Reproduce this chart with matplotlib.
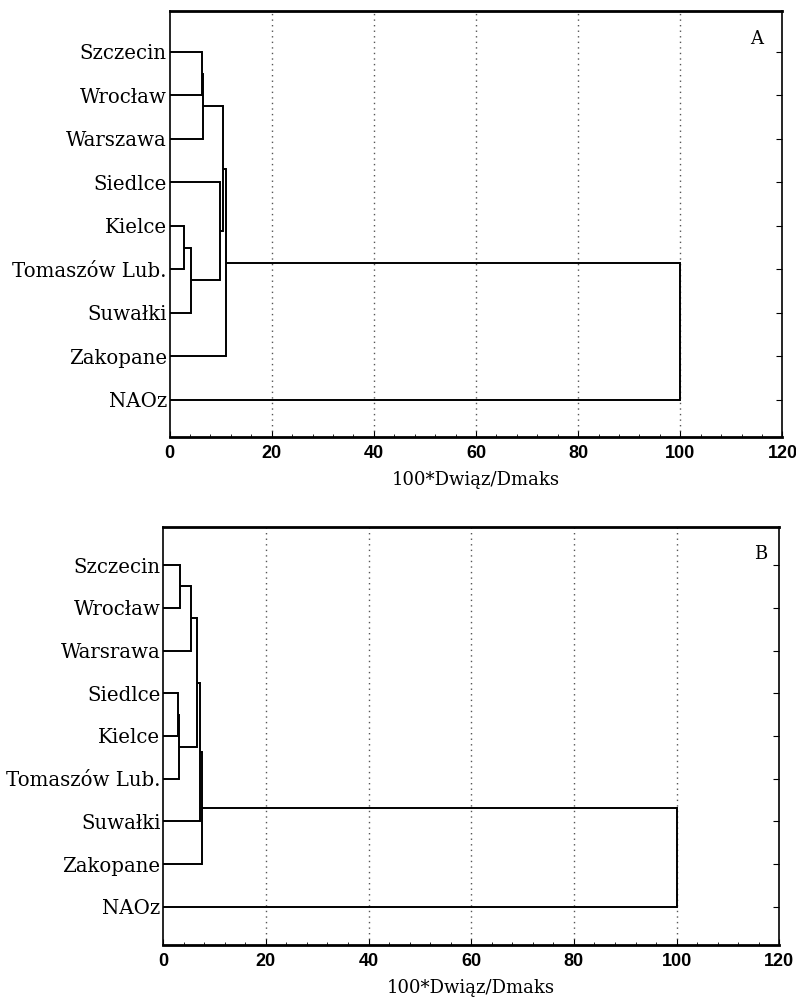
"""
Two dendrograms (Ward-like tree) of stations vs. NAO index, panels A and B.
"""
import matplotlib.pyplot as plt
from matplotlib.ticker import MultipleLocator

# ---- Data ----
stations = ["Szczecin", "Wrocław", "Warszawa", "Siedlce", "Kielce",
            "Tomaszów Lub.", "Suwałki", "Zakopane", "NAOz"]
stations_b = ["Szczecin", "Wrocław", "Warsrawa", "Siedlce", "Kielce",
              "Tomaszów Lub.", "Suwałki", "Zakopane", "NAOz"]

# merges: (child a, child b, height); leaves are 0..8, new clusters 9, 10, ...
merges_a = [
    (0, 1, 6.3),
    (9, 2, 6.6),
    (4, 5, 2.9),
    (11, 6, 4.2),
    (3, 12, 9.8),
    (10, 13, 10.5),
    (14, 7, 11.0),
    (15, 8, 100.0),
]
merges_b = [
    (0, 1, 3.3),
    (9, 2, 5.4),
    (3, 4, 2.8),
    (11, 5, 3.1),
    (10, 12, 6.5),
    (13, 6, 7.2),
    (14, 7, 7.6),
    (15, 8, 100.0),
]

xticks = [0, 20, 40, 60, 80, 100, 120]
xlabel = "100*Dwiąz/Dmaks"

plt.rcParams["font.family"] = ["DejaVu Serif"]
TICK_FONT = ["Liberation Sans", "DejaVu Sans"]


def draw_tree(ax, labels, merges, ylim, tag, tag_x):
    n = len(labels)
    ypos = {i: float(i) for i in range(n)}
    hgt = {i: 0.0 for i in range(n)}
    for k, (a, b, h) in enumerate(merges):
        for c in (a, b):
            ax.plot([hgt[c], h], [ypos[c], ypos[c]], color="black", lw=1.4,
                    solid_capstyle="butt")
        ax.plot([h, h], [ypos[a], ypos[b]], color="black", lw=1.4)
        new = n + k
        ypos[new] = (ypos[a] + ypos[b]) / 2
        hgt[new] = h

    ax.set_xlim(0, 120)
    ax.set_ylim(*ylim)
    ax.set_xticks(xticks)
    ax.set_xticklabels([str(v) for v in xticks], family=TICK_FONT,
                       fontweight="bold", fontsize=13)
    ax.xaxis.set_minor_locator(MultipleLocator(4))
    ax.set_yticks(range(n))
    ax.set_yticklabels(labels, fontsize=14.2)
    ax.tick_params(axis="y", left=False, right=True, direction="in", length=4, pad=2)
    ax.tick_params(axis="x", which="major", direction="in", length=4, pad=6)
    ax.tick_params(axis="x", which="minor", direction="in", length=2)
    for xv in xticks[1:-1]:
        ax.axvline(xv, color="#555555", lw=1.0, ls=(0, (1, 3)), zorder=0)
    for side in ("top", "bottom"):
        ax.spines[side].set_linewidth(2.0)
    for side in ("left", "right"):
        ax.spines[side].set_linewidth(1.2)
    ax.set_xlabel(xlabel, fontsize=13, labelpad=6)
    ax.text(tag_x, 0.935, tag, transform=ax.transAxes, fontsize=13,
            ha="center", va="center")


fig = plt.figure(figsize=(7.96, 10.08), dpi=100)
ax_a = fig.add_axes([0.213, 0.5665, 0.770, 0.4226])
ax_b = fig.add_axes([0.205, 0.0625, 0.774, 0.4147])

draw_tree(ax_a, stations, merges_a, (8.85, -0.94), "A", 0.958)
draw_tree(ax_b, stations_b, merges_b, (8.89, -0.89), "B", 0.969)

fig.savefig("out.png", dpi=100)
